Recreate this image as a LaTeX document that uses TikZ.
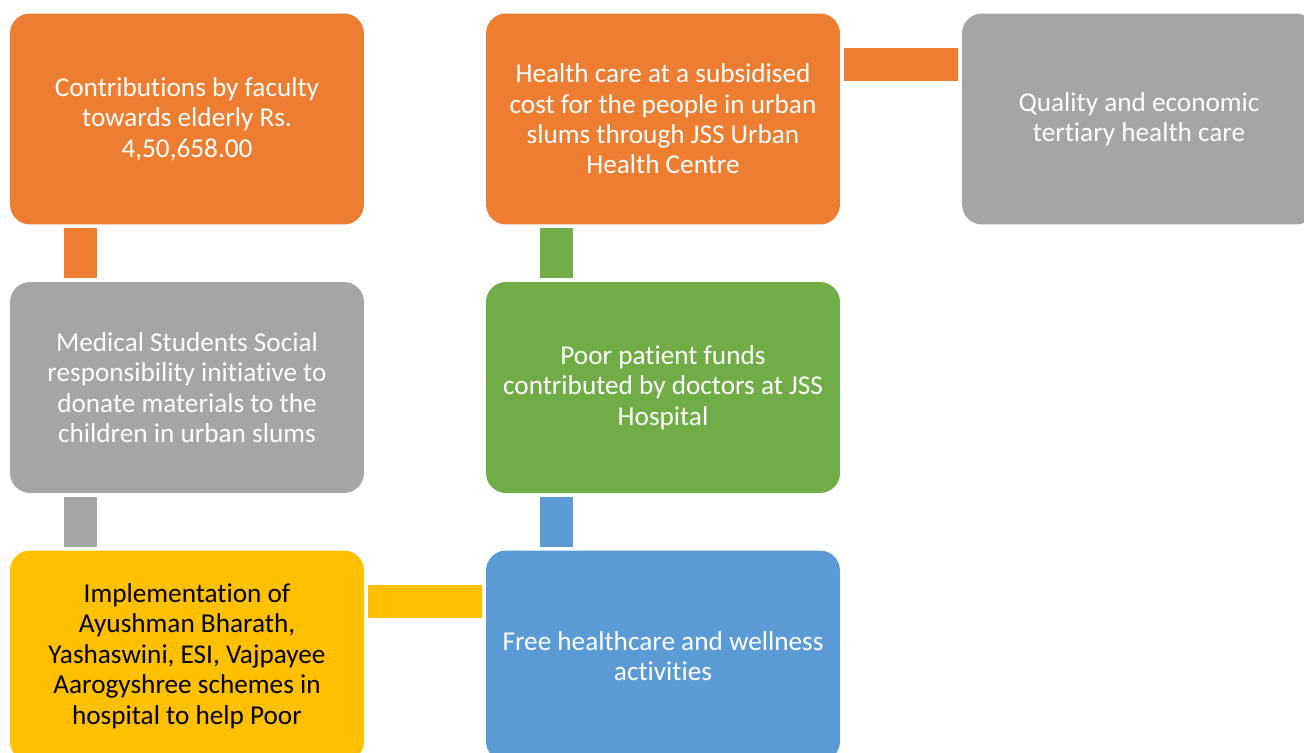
\documentclass[tikz,border=0pt]{standalone}
\usepackage{fontspec}
\setmainfont[Ligatures=NoCommon]{Carlito}
\usepackage{xcolor}
\definecolor{boxorange}{HTML}{ED7D31}
\definecolor{boxgray}{HTML}{A5A5A5}
\definecolor{boxyellow}{HTML}{FFC000}
\definecolor{boxblue}{HTML}{5B9BD5}
\definecolor{boxgreen}{HTML}{70AD47}
\tikzset{box/.style={rounded corners=0.4cm, minimum width=7.08cm, minimum height=4.22cm, inner sep=0pt, text=white, align=center, font=\fontsize{15.5}{17.3}\selectfont},
bar/.style={line width=0.66cm, shorten <=0.07cm, shorten >=0.07cm}}

\begin{document}
\begin{tikzpicture}[x=0.02cm,y=-0.02cm]
\useasboundingbox (0,0) rectangle (1304,753);
\clip (0,0) rectangle (1304,753);
\node[box, fill=boxorange] (faculty) at (187,119) {Contributions by faculty\\towards elderly Rs.\\4,50,658.00};
\node[box, fill=boxgray] (students) at (187,387.5) {Medical Students Social\\responsibility initiative to\\donate materials to the\\children in urban slums};
\node[box, fill=boxyellow, text=black] (schemes) at (187,656) {Implementation of\\Ayushman Bharath,\\Yashaswini, ESI, Vajpayee\\Aarogyshree schemes in\\hospital to help Poor};
\node[box, fill=boxblue] (wellness) at (663,656) {Free healthcare and wellness\\activities};
\node[box, fill=boxgreen] (funds) at (663,387.5) {Poor patient funds\\contributed by doctors at JSS\\Hospital};
\node[box, fill=boxorange] (urban) at (663,119) {Health care at a subsidised\\cost for the people in urban\\slums through JSS Urban\\Health Centre};
\node[box, fill=boxgray] (tertiary) at (1139,119) {Quality and economic\\tertiary health care};
\draw[bar, boxorange] ([xshift=1.41cm]faculty.south west) -- ([xshift=1.41cm]students.north west);
\draw[bar, boxgray] ([xshift=1.41cm]students.south west) -- ([xshift=1.41cm]schemes.north west);
\draw[bar, boxyellow] ([yshift=-1.03cm]schemes.north east) -- ([yshift=-1.03cm]wellness.north west);
\draw[bar, boxblue] ([xshift=1.41cm]wellness.north west) -- ([xshift=1.41cm]funds.south west);
\draw[bar, boxgreen] ([xshift=1.41cm]funds.north west) -- ([xshift=1.41cm]urban.south west);
\draw[bar, boxorange] ([yshift=-1.03cm]urban.north east) -- ([yshift=-1.03cm]tertiary.north west);
\end{tikzpicture}
\end{document}
